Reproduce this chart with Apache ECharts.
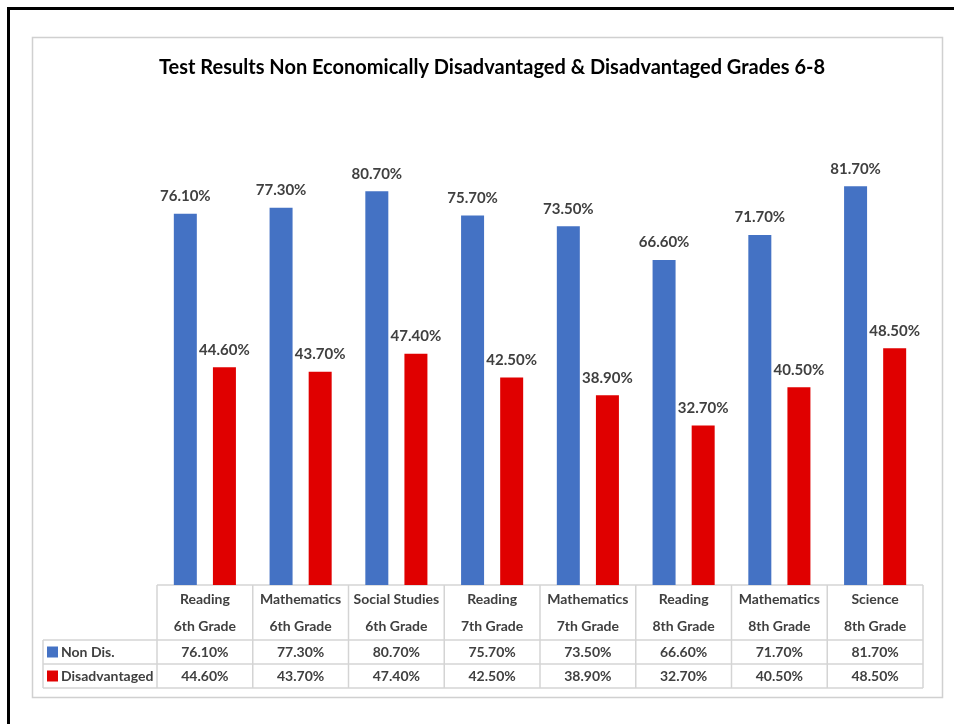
<!DOCTYPE html>
<html>
<head>
<meta charset="utf-8">
<style>
  html, body { margin: 0; padding: 0; background: #fff; }
  #chart { width: 954px; height: 724px; }
</style>
<script src="https://cdn.jsdelivr.net/npm/echarts@6/dist/echarts.min.js"></script>
</head>
<body>
<div id="chart"></div>
<script>
// Subjects and grades (two-line column headers)
const subjects = ['Reading', 'Mathematics', 'Social Studies', 'Reading', 'Mathematics', 'Reading', 'Mathematics', 'Science'];
const grades = ['6th Grade', '6th Grade', '6th Grade', '7th Grade', '7th Grade', '8th Grade', '8th Grade', '8th Grade'];

// Percent passing
const nonDis = [76.1, 77.3, 80.7, 75.7, 73.5, 66.6, 71.7, 81.7];
const disadvantaged = [44.6, 43.7, 47.4, 42.5, 38.9, 32.7, 40.5, 48.5];

const seriesNames = ['Non Dis.', 'Disadvantaged'];
const seriesColors = ['#4472C4', '#E00000'];

const FONT = 'Lato, "Open Sans", sans-serif';
const TEXT = '#404040';
const LINE = '#d4d4d4';

const chart = echarts.init(document.getElementById('chart'), null, { renderer: 'canvas' });

const fmt = v => v.toFixed(2) + '%';

const grid = { left: 157, right: 31, top: 97, bottom: 139 };

chart.setOption({
  animation: false,
  backgroundColor: '#fff',
  title: {
    text: 'Test Results Non Economically Disadvantaged & Disadvantaged Grades 6-8',
    left: 487, top: 53, textAlign: 'center',
    textStyle: { fontFamily: FONT, fontWeight: 'bold', fontSize: 20, color: '#000' }
  },
  grid: grid,
  xAxis: {
    type: 'category',
    data: subjects.map((s, i) => s + '\n' + grades[i]),
    axisLine: { show: false }, axisTick: { show: false }, axisLabel: { show: false }
  },
  yAxis: { type: 'value', min: 0, max: 100, show: false, splitLine: { show: false } },
  series: [nonDis, disadvantaged].map((d, k) => ({
    name: seriesNames[k],
    type: 'bar',
    data: d,
    barWidth: 23,
    barGap: '70%',
    itemStyle: { color: seriesColors[k] },
    label: {
      show: true, position: 'top', distance: 10,
      formatter: p => fmt(p.value),
      fontFamily: FONT, fontWeight: 'bold', fontSize: 15, color: TEXT
    }
  }))
});

// Data table beneath the plot, aligned to the category axis
function buildTable() {
  const els = [];
  const x0 = grid.left;
  const x1 = 954 - grid.right;
  const colW = (x1 - x0) / subjects.length;
  const yTop = 724 - grid.bottom;
  const yHead = yTop + 55;
  const yR1 = yHead + 24;
  const yR2 = yR1 + 24;
  const legX = 43;
  const ls = { stroke: LINE, lineWidth: 1.5 };

  // frames
  els.push({ type: 'rect', shape: { x: 8.5, y: 8.5, width: 1000, height: 1000 }, style: { fill: null, stroke: '#000', lineWidth: 3 }, silent: true });
  els.push({ type: 'rect', shape: { x: 32.5, y: 37.5, width: 910, height: 660 }, style: { fill: null, stroke: '#d0d0d0', lineWidth: 1.5 }, silent: true });

  // horizontal rules
  els.push({ type: 'line', shape: { x1: x0, y1: yTop, x2: x1, y2: yTop }, style: ls });
  [yHead, yR1, yR2].forEach(y => els.push({ type: 'line', shape: { x1: legX, y1: y, x2: x1, y2: y }, style: ls }));
  // vertical rules
  els.push({ type: 'line', shape: { x1: legX, y1: yHead, x2: legX, y2: yR2 }, style: ls });
  for (let i = 0; i <= subjects.length; i++) {
    const x = x0 + i * colW;
    els.push({ type: 'line', shape: { x1: x, y1: yTop, x2: x, y2: yR2 }, style: ls });
  }

  const txt = (x, y, s, align) => ({
    type: 'text', x: x, y: y,
    style: { text: s, fontFamily: FONT, fontWeight: 'bold', fontSize: 14, fill: TEXT, align: align || 'center', verticalAlign: 'middle' }
  });

  subjects.forEach((s, i) => {
    const cx = chart.convertToPixel({ xAxisIndex: 0 }, i);
    els.push(txt(cx, yTop + 14, s));
    els.push(txt(cx, yTop + 41, grades[i]));
    els.push(txt(cx, yHead + 12, fmt(nonDis[i])));
    els.push(txt(cx, yR1 + 12, fmt(disadvantaged[i])));
  });

  // series keys
  [yHead, yR1].forEach((y, k) => {
    els.push({ type: 'rect', shape: { x: 47, y: y + 6.5, width: 11, height: 11 }, style: { fill: seriesColors[k] } });
    els.push(txt(61, y + 12, seriesNames[k], 'left'));
  });

  chart.setOption({ graphic: els });
}
buildTable();
</script>
</body>
</html>
